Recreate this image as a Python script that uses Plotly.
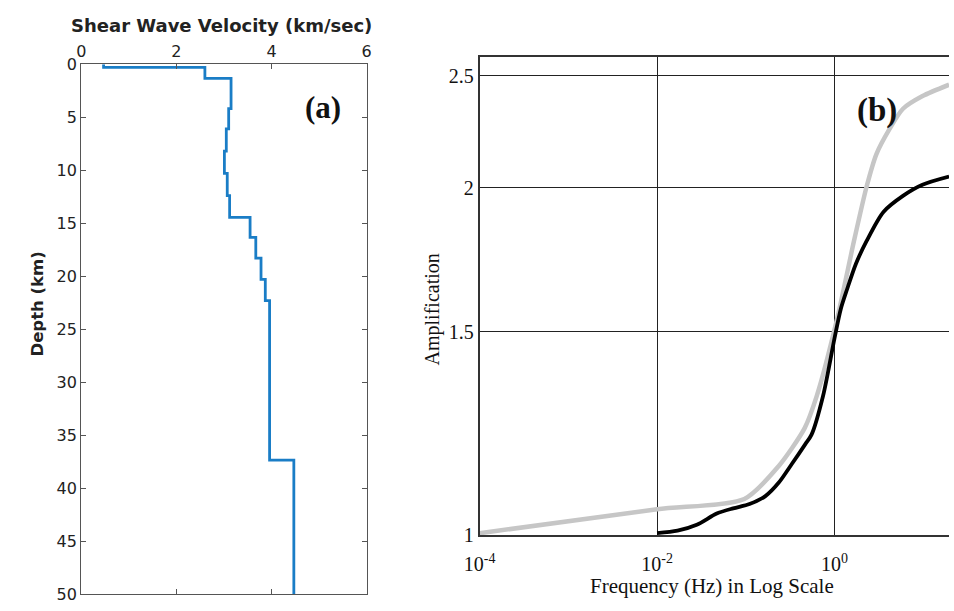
import plotly.graph_objects as go

# ---------------- Panel (a): shear-wave velocity profile ----------------
layer_top_km = [0.0, 0.3, 1.35, 4.2, 6.1, 8.2, 10.3, 12.4, 14.45, 16.35, 18.3, 20.3, 22.3, 37.35]
layer_vs_kms = [0.47, 2.60, 3.15, 3.10, 3.05, 3.01, 3.07, 3.12, 3.55, 3.67, 3.78, 3.87, 3.96, 4.47]
max_depth_km = 50

vel_ticks = [0, 2, 4, 6]
depth_ticks = [0, 5, 10, 15, 20, 25, 30, 35, 40, 45, 50]

# ---------------- Panel (b): amplification curves ----------------
gray_freq_hz = [0.0001, 0.01, 0.096, 0.235, 0.46, 0.63, 1.07, 1.66, 2.3, 2.96, 4.2, 5.9, 9.8, 19.5]
gray_amp = [1.004, 1.053, 1.075, 1.148, 1.238, 1.32, 1.54, 1.80, 2.005, 2.138, 2.25, 2.34, 2.40, 2.455]

black_freq_hz = [0.01, 0.017, 0.028, 0.047, 0.072, 0.11, 0.166, 0.234, 0.331, 0.468, 0.55,
                 0.741, 1.0, 1.175, 1.38, 1.74, 2.29, 3.55, 5.89, 9.77, 19.5]
black_amp = [1.004, 1.009, 1.021, 1.044, 1.055, 1.064, 1.081, 1.110, 1.153, 1.199, 1.222,
             1.32, 1.482, 1.57, 1.632, 1.718, 1.797, 1.905, 1.967, 2.011, 2.044]

freq_tickvals = [0.0001, 0.01, 1]
freq_ticktext = ["10<sup>-4</sup>", "10<sup>-2</sup>", "10<sup>0</sup>"]
amp_tickvals = [1, 1.5, 2, 2.5]
amp_ticktext = ["1", "1.5", "2", "2.5"]

W, H = 954, 611

fig = go.Figure()

# step profile
xs = layer_vs_kms + [layer_vs_kms[-1]]
ys = layer_top_km + [max_depth_km]
fig.add_trace(go.Scatter(x=xs, y=ys, mode="lines", line=dict(color="#1a7dc6", width=2.8, shape="vh"),
                         xaxis="x", yaxis="y", showlegend=False, hoverinfo="skip"))

fig.add_trace(go.Scatter(x=gray_freq_hz, y=gray_amp, mode="lines",
                         line=dict(color="#c6c6c6", width=4.5, shape="spline", smoothing=0.7),
                         xaxis="x2", yaxis="y2", showlegend=False, hoverinfo="skip"))
fig.add_trace(go.Scatter(x=black_freq_hz, y=black_amp, mode="lines",
                         line=dict(color="#000000", width=3.8, shape="spline", smoothing=0.8),
                         xaxis="x2", yaxis="y2", showlegend=False, hoverinfo="skip"))

sans = "DejaVu Sans"
serif = "Liberation Serif"

fig.update_layout(
    width=W, height=H,
    margin=dict(l=0, r=0, t=0, b=0),
    paper_bgcolor="white", plot_bgcolor="white",
    xaxis=dict(domain=[66.7 / W, 358.5 / W], range=[0, 6], side="top", anchor="y",
               tickvals=vel_ticks, ticks="inside", ticklen=5, tickcolor="#555",
               showline=True, linecolor="#555", linewidth=1.2, mirror="ticks",
               showgrid=False, zeroline=False,
               tickfont=dict(family=sans, size=16, color="#222")),
    yaxis=dict(domain=[1 - 605 / H, 1 - 57 / H], range=[max_depth_km, 0], anchor="x",
               tickvals=depth_ticks, ticks="inside", ticklen=5, tickcolor="#555",
               showline=True, linecolor="#555", linewidth=1.2, mirror="ticks",
               showgrid=False, zeroline=False,
               tickfont=dict(family=sans, size=16, color="#222")),
    xaxis2=dict(domain=[474 / W, 1.0], type="log", range=[-4, 1.289], anchor="y2",
                tickvals=freq_tickvals, ticktext=freq_ticktext, ticks="",
                showline=True, linecolor="#333", linewidth=1.5, mirror=True,
                showgrid=True, gridcolor="#222", gridwidth=1.3, zeroline=False,
                ticklabelstandoff=10,
                tickfont=dict(family=serif, size=20, color="#111")),
    yaxis2=dict(domain=[1 - 544 / H, 1 - 50 / H], type="log", range=[0, 0.4137], anchor="x2",
                tickvals=amp_tickvals, ticktext=amp_ticktext, ticks="",
                showline=True, linecolor="#333", linewidth=1.5, mirror=False,
                showgrid=True, gridcolor="#222", gridwidth=1.3, zeroline=False,
                tickfont=dict(family=serif, size=20, color="#111")),
)

ann = [
    dict(text="<b>Shear Wave Velocity (km/sec)</b>", x=210 / W, y=1 - 17 / H,
         font=dict(family=sans, size=18, color="#222")),
    dict(text="<b>Depth (km)</b>", x=21 / W, y=1 - 305 / H, textangle=-90,
         font=dict(family=sans, size=16.5, color="#222")),
    dict(text="<b>(a)</b>", x=314 / W, y=1 - 102 / H,
         font=dict(family=serif, size=31, color="#111")),
    dict(text="<b>(b)</b>", x=880 / W, y=1 - 105 / H,
         font=dict(family=serif, size=33, color="#111")),
    dict(text="Amplification", x=426 / W, y=1 - 311 / H, textangle=-90,
         font=dict(family=serif, size=20, color="#111")),
    dict(text="Frequency (Hz) in Log Scale", x=712 / W, y=1 - 597 / H,
         font=dict(family=serif, size=21, color="#111")),
]
for a in ann:
    a.update(xref="paper", yref="paper", showarrow=False, xanchor="center", yanchor="middle")
fig.update_layout(annotations=ann)

fig.write_html("out.html")
